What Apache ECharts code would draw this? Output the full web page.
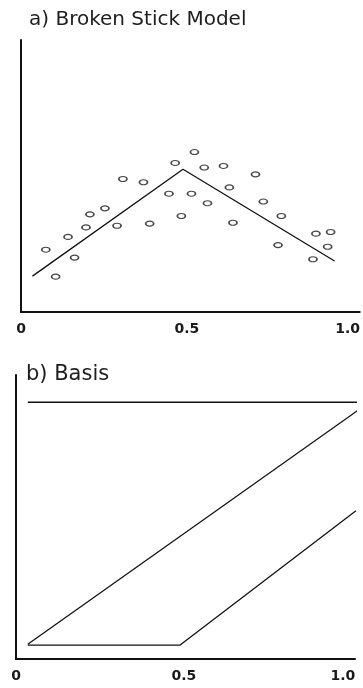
<!DOCTYPE html>
<html>
<head>
<meta charset="utf-8">
<script src="https://cdn.jsdelivr.net/npm/echarts@6/dist/echarts.min.js"></script>
<style>
  html, body { margin: 0; padding: 0; background: #fff; }
  #chart { width: 363px; height: 688px; }
</style>
</head>
<body>
<div id="chart"></div>
<script>
// Panel a) observed points (x, y)
const obsX = [0.076, 0.106, 0.144, 0.164, 0.199, 0.211, 0.257, 0.294, 0.312, 0.375,
              0.394, 0.453, 0.472, 0.491, 0.522, 0.531, 0.561, 0.571, 0.620, 0.638,
              0.649, 0.718, 0.742, 0.797, 0.787, 0.903, 0.948, 0.939, 0.894];
const obsY = [2.29, 1.30, 2.76, 2.00, 3.11, 3.59, 3.81, 3.17, 4.89, 4.77,
              3.25, 4.35, 5.48, 3.53, 4.35, 5.88, 5.31, 4.00, 5.37, 4.58,
              3.28, 5.06, 4.06, 3.53, 2.46, 2.88, 2.94, 2.40, 1.94];

// Panel a) fitted broken stick: knot near 0.5
const stickX = [0.035, 0.496, 0.960];
const stickY = [1.32, 5.25, 1.875];

// Panel b) basis functions
const basisConstX = [0.036, 1.061];
const basisConstY = [9.04, 9.04];
const basisLinearX = [0.036, 1.061];
const basisLinearY = [0.52, 8.88];
const basisHingeX = [0.036, 0.502, 1.040];
const basisHingeY = [0.49, 0.49, 5.22];

// Axis tick labels
const tickValues = [0, 0.5, 1];
const tickLabels = ['0', '0.5', '1.0'];

const xMax = 1.037;
const yMax = 10;

const zip = (xs, ys) => xs.map((x, i) => [x, ys[i]]);

const axisLineStyle = { color: '#111', width: 2 };
const labelFont = { fontFamily: 'DejaVu Sans', fontWeight: 'bold', fontSize: 14, color: '#1a1a1a' };

function makeXAxis(gridIndex, midPad) {
  return {
    type: 'value', gridIndex, min: 0, max: xMax, interval: 0.5,
    axisLine: { show: true, lineStyle: axisLineStyle },
    axisTick: { show: false },
    splitLine: { show: false },
    axisLabel: Object.assign({
      margin: 10,
      showMaxLabel: false,
      formatter: v => {
        const i = tickValues.findIndex(t => Math.abs(t - v) < 1e-6);
        if (i < 0) return '';
        return i === 1 ? '{mid|' + tickLabels[i] + '}' : tickLabels[i];
      },
      rich: { mid: Object.assign({ padding: [0, 0, 0, midPad] }, labelFont) }
    }, labelFont)
  };
}

function makeYAxis(gridIndex) {
  return {
    type: 'value', gridIndex, min: 0, max: yMax,
    axisLine: { show: true, lineStyle: axisLineStyle },
    axisTick: { show: false },
    axisLabel: { show: false },
    splitLine: { show: false }
  };
}

const lineStyle = { color: '#111', width: 1.3 };
const titleFont = { fontFamily: 'DejaVu Sans', fontWeight: 'normal', color: '#1e1e1e' };

const chart = echarts.init(document.getElementById('chart'), null, { renderer: 'canvas' });
chart.setOption({
  animation: false,
  backgroundColor: '#fff',
  title: [
    { text: 'a) Broken Stick Model', left: 24, top: 5,
      textStyle: Object.assign({ fontSize: 20 }, titleFont) },
    { text: 'b) Basis', left: 21, top: 359,
      textStyle: Object.assign({ fontSize: 21 }, titleFont) }
  ],
  grid: [
    { left: 21, top: 40, width: 339, height: 272 },
    { left: 16, top: 375, width: 339, height: 284 }
  ],
  xAxis: [makeXAxis(0, 5), makeXAxis(1, 9)],
  yAxis: [makeYAxis(0), makeYAxis(1)],
  series: [
    {
      type: 'line', xAxisIndex: 0, yAxisIndex: 0,
      data: zip(stickX, stickY), showSymbol: false, lineStyle
    },
    {
      type: 'scatter', xAxisIndex: 0, yAxisIndex: 0,
      data: zip(obsX, obsY), symbol: 'circle', symbolSize: [8, 5],
      itemStyle: { color: '#fff', borderColor: '#1a1a1a', borderWidth: 1.4 }
    },
    {
      type: 'line', xAxisIndex: 1, yAxisIndex: 1, clip: false,
      data: zip(basisConstX, basisConstY), showSymbol: false,
      lineStyle: { color: '#111', width: 1.5 }
    },
    {
      type: 'line', xAxisIndex: 1, yAxisIndex: 1, clip: false,
      data: zip(basisLinearX, basisLinearY), showSymbol: false, lineStyle
    },
    {
      type: 'line', xAxisIndex: 1, yAxisIndex: 1, clip: false,
      data: zip(basisHingeX, basisHingeY), showSymbol: false, lineStyle
    }
  ]
});
</script>
</body>
</html>
